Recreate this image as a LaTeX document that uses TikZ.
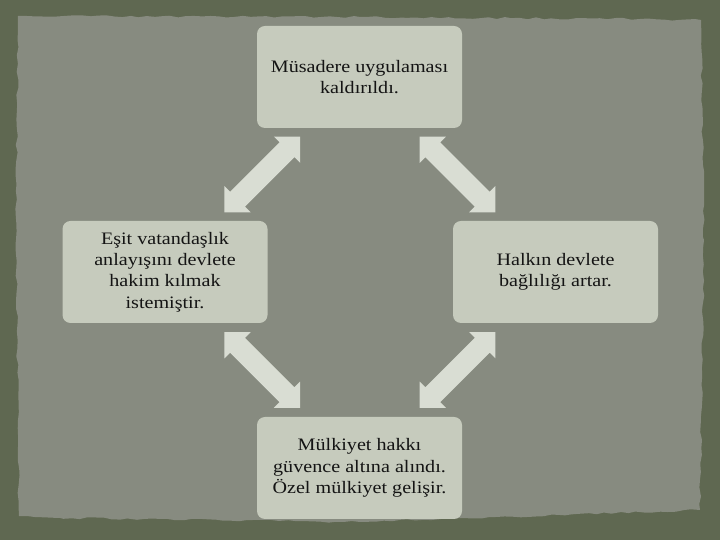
\documentclass[tikz,border=0pt]{standalone}
\usepackage{fontspec}
\setmainfont{Liberation Serif}[FakeStretch=1.15]
\usetikzlibrary{calc,decorations.pathmorphing}
\definecolor{outerbg}{HTML}{5F6851}
\definecolor{paper}{HTML}{878B80}
\definecolor{boxfill}{HTML}{C6CBBD}
\definecolor{arrowfill}{HTML}{D9DDD3}
\definecolor{txt}{HTML}{141414}
\tikzset{
  box/.style={rectangle, rounded corners=8pt, fill=boxfill, minimum width=205pt, minimum height=102pt, inner sep=0pt,
    align=center, text=txt, font=\fontsize{17.5}{21.3}\selectfont},
  dbl/.pic={\fill[arrowfill] (-53.5,0) -- (-35,18.4) -- (-35,10.5) -- (35,10.5) -- (35,18.4) -- (53.5,0) -- (35,-18.4) -- (35,-10.5) -- (-35,-10.5) -- (-35,-18.4) -- cycle;}
}
\begin{document}
\begin{tikzpicture}[x=1pt,y=1pt]
\pgfmathsetseed{11}
\fill[outerbg] (0,0) rectangle (720,540);
\useasboundingbox (0,0) rectangle (720,540);
\fill[paper, decorate, decoration={random steps, segment length=8pt, amplitude=1.1pt}]
  (18,524) -- (360,523) -- (640,521) -- (701,520) -- (704,300) -- (700,30) -- (560,25) -- (360,18) -- (60,22) -- (19,24) -- (16,300) -- cycle;
\node[box] (top) at (359.5,463) {Müsadere uygulaması\\kaldırıldı.};
\node[box] (left) at (165,268) {Eşit vatandaşlık\\anlayışını devlete\\hakim kılmak\\istemiştir.};
\node[box] (right) at (555.5,268) {Halkın devlete\\bağlılığı artar.};
\node[box] (bottom) at (359.5,72) {Mülkiyet hakkı\\güvence altına alındı.\\Özel mülkiyet gelişir.};
\coordinate (a1) at ($(top.south west)!0.5!(left.north east)$);
\coordinate (a2) at ($(top.south east)!0.5!(right.north west)$);
\coordinate (a3) at ($(left.south east)!0.5!(bottom.north west)$);
\coordinate (a4) at ($(right.south west)!0.5!(bottom.north east)$);
\pic[rotate=45] at (a1) {dbl};
\pic[rotate=-45] at (a2) {dbl};
\pic[rotate=-45] at (a3) {dbl};
\pic[rotate=45] at (a4) {dbl};
\end{tikzpicture}
\end{document}
